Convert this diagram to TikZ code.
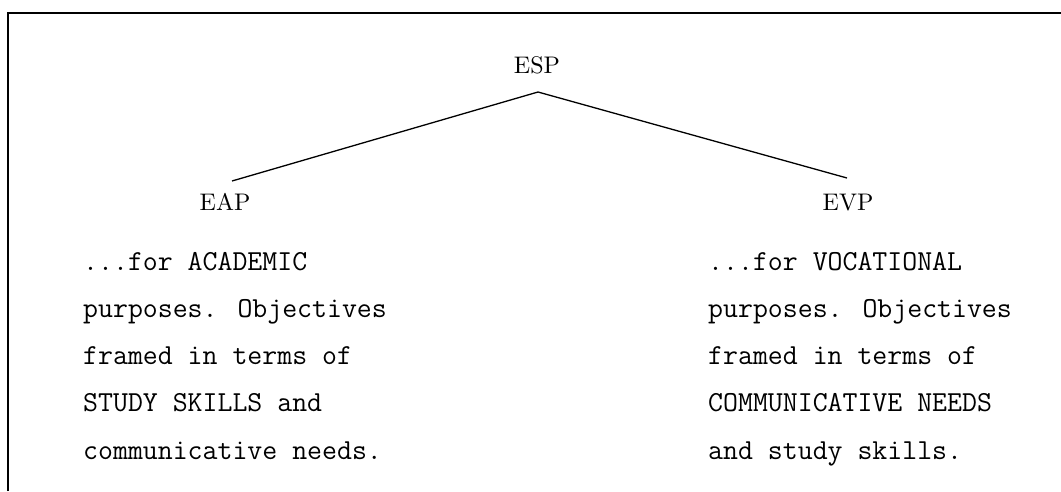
\documentclass[tikz,border=0pt]{standalone}
\usepackage{fontspec}
\newfontfamily\lblfont{lmroman10-regular}[Extension=.otf]
\begin{document}
\begin{tikzpicture}[x=1pt,y=-1pt,
  lbl/.style={font=\fontsize{24}{28}\selectfont\lblfont, inner sep=0pt},
  block/.style={font=\fontsize{29}{47.3}\selectfont\ttfamily, align=left, inner sep=0pt, anchor=base west},
  branch/.style={line width=1.3pt},
  frame/.style={line width=2pt}]
\useasboundingbox (0,0) rectangle (1061,491);
\draw[frame] (8,491) -- (8,13) -- (1061,13);
\node[lbl, anchor=base] (esp) at (537,73) {ESP};
\node[lbl, anchor=base] (eap) at (225,210) {EAP};
\node[lbl, anchor=base] (evp) at (848,210) {EVP};
\coordinate (apex) at (538,92);
\coordinate (lend) at (232,181);
\coordinate (rend) at (847,178);
\draw[branch] (lend) -- (apex) -- (rend);
\node[block] (acad) at (83,459.2) {...for ACADEMIC\\purposes. Objectives\\framed in terms of\\STUDY SKILLS and\\communicative needs.};
\node[block] (voc) at (708,459.2) {...for VOCATIONAL\\purposes. Objectives\\framed in terms of\\COMMUNICATIVE NEEDS\\and study skills.};
\end{tikzpicture}
\end{document}
